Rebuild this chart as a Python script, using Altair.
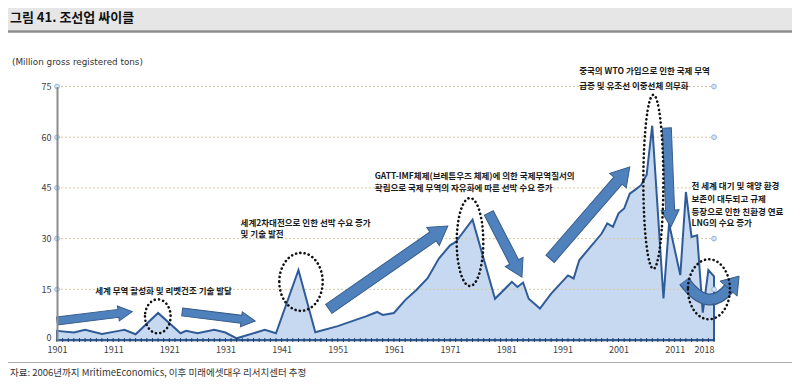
import math
import altair as alt
import pandas as pd

# ---------------- data ----------------
years = [1901, 1904, 1906, 1909, 1912, 1913, 1915, 1919, 1923, 1924, 1926, 1929, 1931, 1933,
         1938, 1940, 1944, 1947, 1951, 1956, 1958, 1959, 1961, 1963, 1965, 1967, 1969, 1971,
         1972, 1975, 1979, 1982, 1983, 1984, 1985, 1987, 1989, 1992, 1993, 1994, 1998, 1999,
         2000, 2001, 2002, 2003, 2004, 2005, 2006, 2007, 2009, 2010, 2012, 2013, 2014, 2015,
         2016, 2017, 2018]
tons = [2.7, 2.2, 3.0, 1.8, 2.7, 3.0, 1.7, 8.0, 2.0, 2.7, 2.0, 3.0, 2.2, 0.5,
        3.0, 2.0, 20.7, 2.3, 4.1, 7.0, 8.3, 7.4, 8.0, 11.8, 14.8, 18.3, 24.1, 28.0,
        29.0, 35.6, 12.2, 17.2, 15.7, 17.0, 12.2, 9.3, 13.7, 19.1, 18.2, 23.6, 31.5, 34.5,
        33.5, 37.5, 38.9, 43.3, 44.5, 45.8, 48.8, 63.4, 12.3, 34.4, 19.2, 43.8, 30.5, 31.0,
        8.1, 20.7, 18.8]

y_ticks = [0, 15, 30, 45, 60, 75]
x_label_years = [1901, 1911, 1921, 1931, 1941, 1951, 1961, 1971, 1981, 1991, 2001, 2011, 2018]
x_tick_years = list(range(1901, 2019))

title_text = "그림 41. 조선업 싸이클"
unit_text = "(Million gross registered tons)"
source_text = "자료: 2006년까지 MritimeEconomics, 이후 미래에셋대우 리서치센터 추정"

# annotation text lines: text, left year, value
note_text = ["세계 무역 활성화 및 리벳건조 기술 발달",
             "세계2차대전으로  인한 선박 수요 증가", "및 기술 발전",
             "GATT-IMF체제(브레튼우즈  체제)에 의한 국제무역질서의",
             "확립으로 국제 무역의 자유화에 따른 선박 수요 증가",
             "중국의 WTO 가입으로 인한 국제 무역", "급증 및 유조선 이중선체 의무화",
             "전 세계 대기 및 해양 환경", "보존이 대두되고 규제", "등장으로 인한 친환경 연료",
             "LNG의 수요 증가"]
note_year = [1907.8, 1933.7, 1933.7, 1957.6, 1957.6, 1994.0, 1994.0, 2014.0, 2014.0, 2014.0, 2014.0]
note_val = [14.6, 34.5, 31.3, 48.5, 44.9, 79.6, 75.2, 45.6, 41.7, 38.0, 34.5]

# block arrows: tail (year, value) -> tip (year, value)
arrow_from_year = [1901.0, 1923.3, 1949.4, 1977.9, 1988.8, 2009.6]
arrow_from_val = [5.6, 8.3, 9.2, 37.6, 24.0, 62.7]
arrow_to_year = [1914.4, 1936.3, 1970.6, 1983.8, 2003.0, 2010.3]
arrow_to_val = [8.4, 5.6, 33.7, 18.6, 51.2, 33.4]

# dotted ellipses: centre (year, value), radii in px
ell_year = [1918.95, 1944.45, 1974.55, 2007.2, 2017.1]
ell_val = [7.0, 17.2, 29.0, 46.8, 15.0]
ell_rx = [12.8, 21.7, 13.3, 10.0, 21.0]
ell_ry = [17.0, 29.0, 44.0, 87.0, 30.0]

# ---------------- layout ----------------
W, H = 657, 253.5
X0, X1 = 1901, 2018
Y0, Y1 = 0, 75
kx = W / (X1 - X0)
ky = H / (Y1 - Y0)
FONT = "Noto Sans CJK KR"
LINE = "#2f5b97"
FILL = "#c6d9f1"
ARROW_FILL = "#4f81bd"
ARROW_STROKE = "#385d8a"

df = pd.DataFrame({"year": years, "tons": tons})

xs = alt.Scale(domain=[X0, X1], nice=False, zero=False)
ys = alt.Scale(domain=[Y0, Y1], nice=False)

x_axis = alt.Axis(values=x_label_years, format="d",
                  labelAlign={"condition": {"test": "datum.value == 2018", "value": "right"}, "value": "center"},
                  labelOverlap=False, labelFont=FONT, labelFontSize=9, labelColor="#404040",
                  labelPadding=5, ticks=False, domainColor="#243f60",
                  domainWidth=1.5, grid=False, title=None)
y_axis = alt.Axis(values=y_ticks, labelFont=FONT, labelFontSize=9, labelColor="#404040",
                  labelBaseline={"condition": {"test": "datum.value == 0", "value": "alphabetic"},
                                 "value": "middle"},
                  ticks=False, labelPadding=6, domainColor="#8c8c8c",
                  domainWidth=2, grid=False, title=None, zindex=1)


def X(field):
    return alt.X(field, scale=xs, title=None)


def Y(field):
    return alt.Y(field, scale=ys, title=None)


area_fill = alt.Chart(df).mark_area(color=FILL, opacity=1).encode(
    x=alt.X("year:Q", scale=xs, axis=x_axis, title=None),
    y=alt.Y("tons:Q", scale=ys, axis=y_axis, title=None),
)

grid_df = pd.DataFrame({"v": y_ticks[1:], "xa": [X0] * 5, "xb": [X1] * 5})
grid = alt.Chart(grid_df).mark_rule(color="#d3cb9f", strokeDash=[2, 2], strokeWidth=1).encode(
    x=X("xa:Q"), x2="xb:Q", y=Y("v:Q"),
)
circ_df = pd.DataFrame({"v": y_ticks[1:] * 2, "xx": [X0] * 5 + [X1] * 5})
circles = alt.Chart(circ_df).mark_point(shape="circle", size=22, filled=True, fill="#dce6f2",
                                         stroke="#8db3e2", strokeWidth=1, opacity=1).encode(
    x=X("xx:Q"), y=Y("v:Q"))

area_line = alt.Chart(df).mark_area(fillOpacity=0, stroke=LINE, strokeWidth=2,
                                    strokeJoin="miter").encode(
    x=X("year:Q"), y=Y("tons:Q"),
)

tick_df = pd.DataFrame({"ty": x_tick_years, "tv": [0] * len(x_tick_years)})
year_ticks = alt.Chart(tick_df).mark_tick(orient="vertical", color="#243f60", thickness=1,
                                          size=4, opacity=1).encode(
    x=X("ty:Q"), y=Y("tv:Q"))


# arrows as custom symbol paths (size 4 -> path units are pixels)
def arrow_path(L, sw, hw, hl):
    a, b, c = -L / 2, L / 2 - hl, L / 2
    return (f"M{a:.1f},{-sw} L{b:.1f},{-sw} L{b:.1f},{-hw} L{c:.1f},0 "
            f"L{b:.1f},{hw} L{b:.1f},{sw} L{a:.1f},{sw} Z")


dims = [(4, 7.5, 14), (4, 7.5, 14), (5.5, 11, 18), (5, 10, 17), (5.5, 11, 18), (4.5, 9, 17)]
arows = []
for i in range(len(arrow_from_year)):
    dx = (arrow_to_year[i] - arrow_from_year[i]) * kx
    dy = -(arrow_to_val[i] - arrow_from_val[i]) * ky
    L = math.hypot(dx, dy)
    ang = math.degrees(math.atan2(dy, dx)) % 360
    sw, hw, hl = dims[i]
    arows.append({"mx": (arrow_from_year[i] + arrow_to_year[i]) / 2,
                  "my": (arrow_from_val[i] + arrow_to_val[i]) / 2,
                  "path": arrow_path(L, sw, hw, hl), "ang": ang})
arr_df = pd.DataFrame(arows)
arrows = alt.Chart(arr_df).mark_point(filled=True, fill=ARROW_FILL, stroke=ARROW_STROKE,
                                      strokeWidth=1, opacity=1, size=4).encode(
    x=X("mx:Q"), y=Y("my:Q"),
    shape=alt.Shape("path:N", scale=None, legend=None),
    angle=alt.Angle("ang:Q", scale=None),
)

# curved arrow at the end
curve_df = pd.DataFrame({"mx": [2016.95], "my": [11.8],
                         "band": ["M-24,-19 Q0,14 21,-12"],
                         "head": ["M29,-4 L31,-24 L12,-19 Z"]})
curve_outer = alt.Chart(curve_df).mark_point(filled=False, stroke=ARROW_STROKE, strokeWidth=12,
                                             opacity=1, size=4).encode(
    x=X("mx:Q"), y=Y("my:Q"), shape=alt.Shape("band:N", scale=None, legend=None))
curve_inner = alt.Chart(curve_df).mark_point(filled=False, stroke=ARROW_FILL, strokeWidth=9.5,
                                             opacity=1, size=4).encode(
    x=X("mx:Q"), y=Y("my:Q"), shape=alt.Shape("band:N", scale=None, legend=None))
curve_head = alt.Chart(curve_df).mark_point(filled=True, fill=ARROW_FILL, stroke=ARROW_STROKE,
                                            strokeWidth=1, opacity=1, size=4).encode(
    x=X("mx:Q"), y=Y("my:Q"), shape=alt.Shape("head:N", scale=None, legend=None))

# dotted ellipses
erows = []
for i in range(len(ell_year)):
    rx, ry = ell_rx[i], ell_ry[i]
    erows.append({"ex": ell_year[i], "ey": ell_val[i],
                  "path": f"M{-rx},0 A{rx} {ry} 0 1 0 {rx},0 A{rx} {ry} 0 1 0 {-rx},0 Z"})
ell_df = pd.DataFrame(erows)
ellipses = alt.Chart(ell_df).mark_point(filled=False, stroke="#111111", strokeWidth=2.6,
                                        strokeDash=[0.1, 4.2], strokeCap="round",
                                        opacity=1, size=4).encode(
    x=X("ex:Q"), y=Y("ey:Q"), shape=alt.Shape("path:N", scale=None, legend=None))

note_df = pd.DataFrame({"t": note_text, "nx": note_year, "ny": note_val})
notes = alt.Chart(note_df).mark_text(align="left", baseline="middle", font=FONT, fontSize=8.5,
                                     fontWeight="bold", color="#1a1a1a").encode(
    x=X("nx:Q"), y=Y("ny:Q"), text="t:N")

# ---------------- page decorations ----------------
deco = pd.DataFrame({"k": [0]})
band = alt.Chart(deco).mark_rect(color="#e6e6e6").encode(
    x=alt.value(-49), x2=alt.value(735), y=alt.value(-78.5), y2=alt.value(-56))
band_line = alt.Chart(deco).mark_rule(color="#8c8c8c", strokeWidth=2.5).encode(
    x=alt.value(-49), x2=alt.value(735), y=alt.value(-55))
title = alt.Chart(deco).mark_text(align="left", baseline="middle", font=FONT, fontSize=13,
                                  fontWeight="bold", color="#111111").encode(
    x=alt.value(-47), y=alt.value(-69), text=alt.value(title_text))
unit = alt.Chart(deco).mark_text(align="left", baseline="middle", font="DejaVu Sans",
                                 fontSize=8.8, color="#333333").encode(
    x=alt.value(-45), y=alt.value(-24.5), text=alt.value(unit_text))
foot_line = alt.Chart(deco).mark_rule(color="#b0b0b0", strokeWidth=1.2).encode(
    x=alt.value(-49), x2=alt.value(735), y=alt.value(276))
foot = alt.Chart(deco).mark_text(align="left", baseline="middle", font=FONT, fontSize=9.5,
                                 color="#333333").encode(
    x=alt.value(-47), y=alt.value(286), text=alt.value(source_text))

chart = alt.layer(
    area_fill, band, band_line, title, unit,
    grid, area_line, year_ticks, circles,
    arrows, curve_outer, curve_inner, curve_head, ellipses, notes,
    foot_line, foot,
).properties(
    width=W, height=H,
    padding={"left": 49, "top": 78.5, "right": 78, "bottom": 38},
    autosize=alt.AutoSizeParams(type="none"),
).configure_view(stroke=None)

chart.save("out.html", embed_options={"renderer": "svg", "actions": False})
